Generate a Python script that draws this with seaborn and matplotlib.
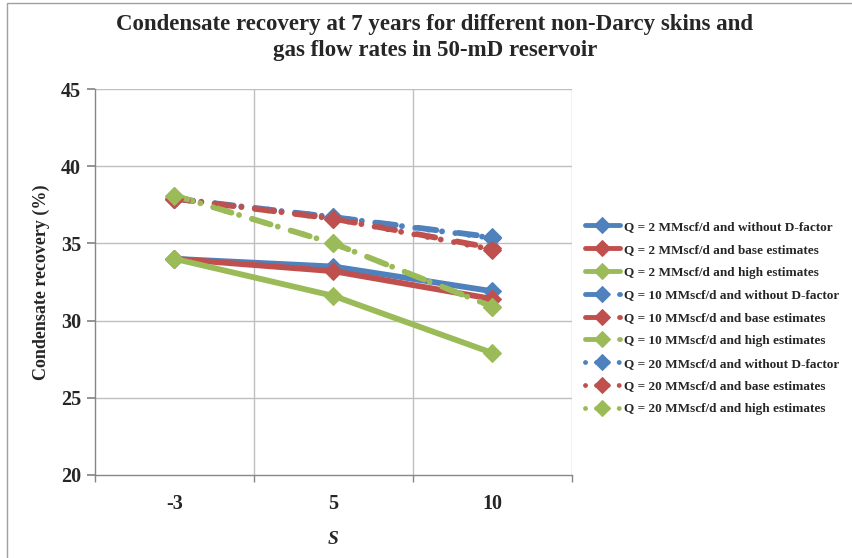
import matplotlib
matplotlib.use("Agg")
import matplotlib.pyplot as plt
import seaborn as sns
import pandas as pd
from matplotlib.patches import Rectangle

sns.set_theme(style="white")
plt.rcParams["font.family"] = ["Liberation Serif", "DejaVu Serif"]

# Non-Darcy skin categories
skin_labels = ["-3", "5", "10"]

# Condensate recovery (%) at 7 years
q2_without = [34.0, 33.5, 31.9]
q2_base = [34.0, 33.2, 31.4]
q2_high = [34.0, 31.6, 27.9]
q10_without = [37.9, 36.7, 35.4]
q10_base = [37.9, 36.6, 34.7]
q10_high = [38.1, 35.0, 30.9]
q20_without = [37.9, 36.7, 35.35]
q20_base = [37.9, 36.6, 34.6]
q20_high = [38.1, 35.0, 30.9]

series_names = [
    "Q = 2 MMscf/d and without D-factor",
    "Q = 2 MMscf/d and base estimates",
    "Q = 2 MMscf/d and high estimates",
    "Q = 10 MMscf/d and without D-factor",
    "Q = 10 MMscf/d and base estimates",
    "Q = 10 MMscf/d and high estimates",
    "Q = 20 MMscf/d and without D-factor",
    "Q = 20 MMscf/d and base estimates",
    "Q = 20 MMscf/d and high estimates",
]
series_values = [q2_without, q2_base, q2_high,
                 q10_without, q10_base, q10_high,
                 q20_without, q20_base, q20_high]

blue, red, green = "#4F81BD", "#C0504D", "#9BBB59"
colors = [blue, red, green] * 3
dash_styles = [None] * 3 + [(3.2, 3.8)] * 3 + [(0.01, 2.3)] * 3

rows = []
for name, vals in zip(series_names, series_values):
    for i, v in enumerate(vals):
        rows.append({"series": name, "pos": i, "recovery": v})
df = pd.DataFrame(rows)

fig = plt.figure(figsize=(8.53, 5.58), dpi=100)
ax = fig.add_axes([95 / 853, 1 - 475 / 558, (572 - 95) / 853, (475 - 89) / 558])

for k, name in enumerate(series_names):
    sub = df[df["series"] == name]
    ls = "-" if k < 3 else "--"
    sns.lineplot(data=sub, x="pos", y="recovery", ax=ax, color=colors[k],
                 linewidth=4.2, marker="D", markersize=9.5,
                 markeredgecolor=colors[k], label=name, zorder=3 + k,
                 linestyle=ls)
    ln = ax.get_lines()[-1]
    if dash_styles[k] is not None:
        ln.set_dashes(dash_styles[k])
        ln.set_dash_capstyle("round")

ax.set_xlim(-0.5, 2.5)
ax.set_ylim(20, 45)
ax.set_yticks([20, 25, 30, 35, 40, 45])
ax.set_xticks([0, 1, 2])
ax.set_xticklabels(skin_labels)
ax.set_xticks([-0.5, 0.5, 1.5, 2.5], minor=True)

ax.grid(False)
for y in [25, 30, 35, 40, 45]:
    ax.axhline(y, color="#BFBFBF", linewidth=1.0, zorder=1)
for x in [0.5, 1.5, 2.5]:
    ax.axvline(x, color="#BFBFBF", linewidth=1.0, zorder=1)

for side in ["top", "right"]:
    ax.spines[side].set_visible(False)
for side in ["left", "bottom"]:
    ax.spines[side].set_color("#868686")
    ax.spines[side].set_linewidth(1.0)

ax.tick_params(axis="x", which="major", length=0, pad=14,
               labelsize=14.5)
ax.tick_params(axis="x", which="minor", length=5, color="#868686",
               direction="out", bottom=True)
ax.tick_params(axis="y", which="major", length=6, color="#868686",
               direction="out", labelsize=14.5, pad=4, left=True)
for lbl in ax.get_xticklabels() + ax.get_yticklabels():
    lbl.set_fontweight("bold")

ax.set_xlabel("S", fontsize=14, fontweight="bold", fontstyle="italic", labelpad=12)
ax.set_ylabel("Condensate recovery (%)", fontsize=13, fontweight="bold", labelpad=8)

fig.suptitle("Condensate recovery at 7 years for different non-Darcy skins and\n"
             "gas flow rates in 50-mD reservoir",
             x=435 / 853, y=1 - 14 / 558, fontsize=16.5, fontweight="bold",
             linespacing=1.3, va="top")

leg = ax.legend(loc="center left", bbox_to_anchor=(580 / 853, 1 - 318 / 558),
                bbox_transform=fig.transFigure, frameon=False,
                prop={"family": "Liberation Serif", "weight": "bold", "size": 9.5},
                handlelength=2.6, handletextpad=0.3, labelspacing=0.8,
                borderaxespad=0)
for h in leg.get_lines():
    h.set_linewidth(3.5)
    h.set_markersize(8)

# chart outline
fig.patches.append(Rectangle((7 / 853, -0.01), 1.0, 1 - 3 / 558 + 0.01,
                             transform=fig.transFigure, fill=False,
                             edgecolor="#A0A0A0", linewidth=1.0))

fig.savefig("out.png", dpi=100)
